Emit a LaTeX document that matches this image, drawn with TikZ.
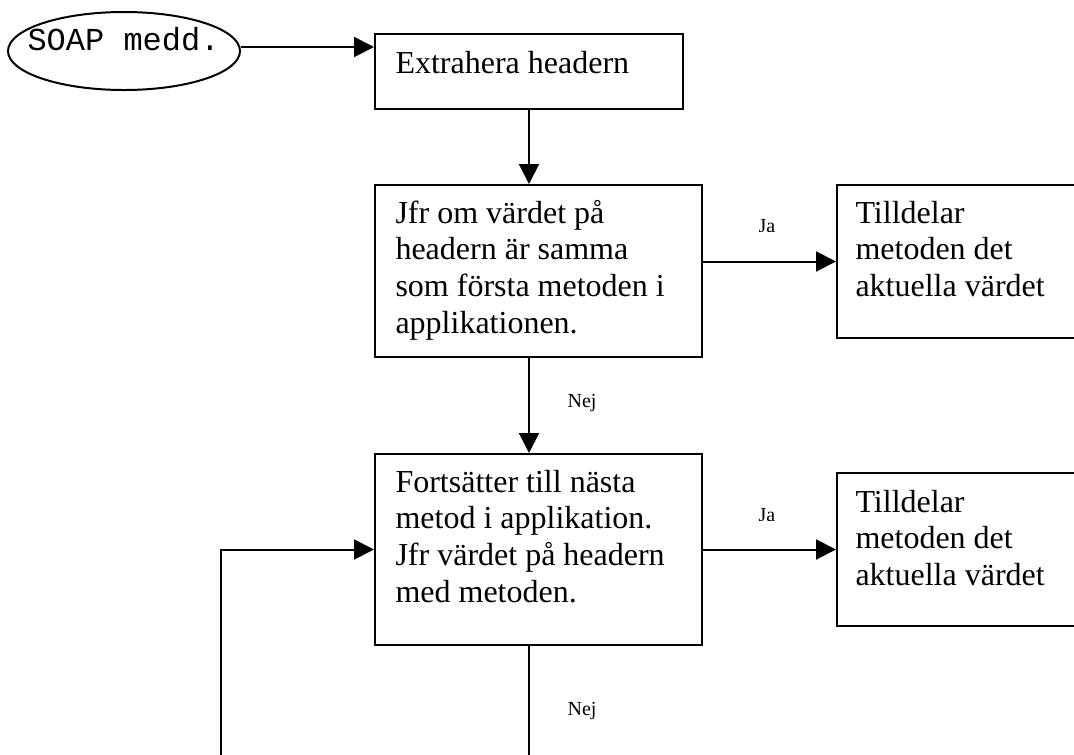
\documentclass[tikz,border=0pt]{standalone}
\usepackage{fontspec}
\setmainfont{Liberation Serif}
\setmonofont{Liberation Mono}
\usetikzlibrary{calc, arrows.meta, shapes.geometric}
\newcommand{\stacklines}[1]{\begin{tabular}[t]{@{}l@{}}#1\end{tabular}}

\begin{document}
\begin{tikzpicture}[
    x=0.375pt, y=-0.375pt,
    frame/.style={draw, line width=0.75pt, rectangle, inner sep=0pt, anchor=north west},
    boxtext/.style={anchor=base west, inner sep=0pt, font=\fontsize{12}{13.8}\selectfont},
    answer/.style={anchor=base, inner sep=0pt, font=\fontsize{7.5}{9}\selectfont},
    flow/.style={line width=0.75pt},
    >={Triangle[length=7.5pt, width=7.5pt]}
]

\useasboundingbox (0,0) rectangle (1074,755);
\clip (0,0) rectangle (1074,755);

% Incoming message
\node[draw, ellipse, line width=0.75pt, inner sep=0pt,
      minimum width=87pt, minimum height=29.25pt] (soap) at (124,51) {};
\node[anchor=base west, inner sep=0pt, font=\ttfamily\fontsize{12}{14}\selectfont]
      (soaptxt) at (27,50) {SOAP medd.};

% Boxes
\node[frame, minimum width=115.5pt, minimum height=28.125pt] (extr) at (374,33) {};
\node[boxtext] (extrtxt) at (395,73) {Extrahera headern};

\node[frame, minimum width=122.625pt, minimum height=64.5pt] (cmpfirst) at (374,184) {};
\node[boxtext] (cmpfirsttxt) at (395,223)
      {\stacklines{Jfr om värdet på\\headern är samma\\som första metoden i\\applikationen.}};

\node[frame, minimum width=101.25pt, minimum height=57.375pt] (assign1) at (836,184) {};
\node[boxtext] (assign1txt) at (855,223)
      {\stacklines{Tilldelar\\metoden det\\aktuella värdet}};

\node[frame, minimum width=122.625pt, minimum height=71.625pt] (cmpnext) at (374,453) {};
\node[boxtext] (cmpnexttxt) at (395,492)
      {\stacklines{Fortsätter till nästa\\metod i applikation.\\Jfr värdet på headern\\med metoden.}};

\node[frame, minimum width=101.25pt, minimum height=57.375pt] (assign2) at (836,472) {};
\node[boxtext] (assign2txt) at (855,512)
      {\stacklines{Tilldelar\\metoden det\\aktuella värdet}};

% Flow
\draw[->, flow] ([yshift=1.5pt]soap.east) -- ([yshift=1.5pt]soap.east -| extr.west);
\draw[->, flow] (extr.south) -- (extr.south |- cmpfirst.north);
\draw[->, flow] (cmpfirst.east |- assign1.west) -- (assign1.west);
\draw[->, flow] (extr.south |- cmpfirst.south) -- (extr.south |- cmpnext.north);
\draw[->, flow] (cmpnext.east) -- (assign2.west);

% Loop back
\coordinate (loopbot) at (221,760);
\draw[flow] (extr.south |- cmpnext.south) -- (extr.south |- loopbot);
\draw[->, flow] (loopbot) |- (cmpnext.west);

% Answers (the Ja labels are cut off at the bottom)
\begin{scope}
    \clip (740,200) rectangle (800,231);
    \node[answer] (ja1) at (767,232) {Ja};
\end{scope}
\begin{scope}
    \clip (740,490) rectangle (800,520);
    \node[answer] (ja2) at (767,521) {Ja};
\end{scope}
\node[answer] (nej1) at (582,407) {Nej};
\node[answer] (nej2) at (582,715) {Nej};

\end{tikzpicture}
\end{document}
